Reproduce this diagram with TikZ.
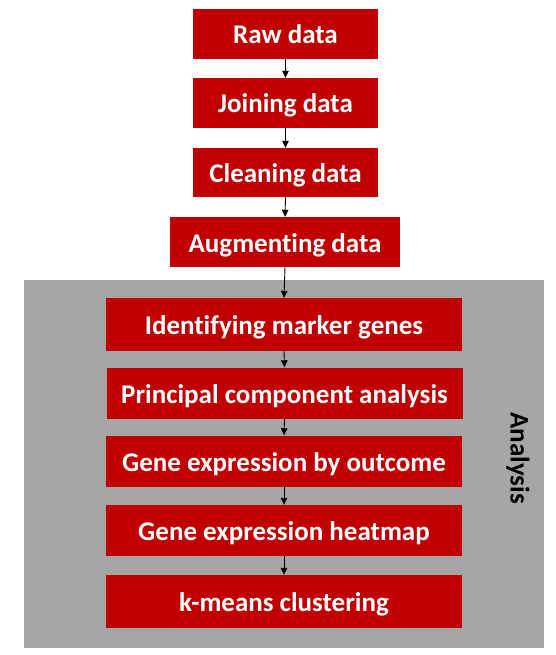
\documentclass[tikz,border=0pt]{standalone}
\usepackage{fontspec}
\setmainfont{Carlito}[Ligatures=NoCommon]
\usetikzlibrary{arrows.meta}
\definecolor{boxred}{HTML}{C00000}
\definecolor{panelgray}{HTML}{A6A6A6}
\begin{document}
\begin{tikzpicture}[x=1pt,y=-1pt,
  stepbox/.style={fill=boxred, draw=none, text=white, inner sep=0pt,
    font=\fontsize{27}{31}\selectfont\bfseries, minimum height=50pt,
    text height=23pt, text depth=3pt},
  flow/.style={draw=black, line width=0.9pt, -{Triangle[width=6.5pt,length=7pt]}}]
\useasboundingbox (0,0) rectangle (556,655);
% analysis panel
\fill[panelgray] (24,280) rectangle (544,648);
\node[rotate=-90, font=\fontsize{27}{31}\selectfont\bfseries] (analysislabel) at (518,458) {Analysis};
% preparation steps
\node[stepbox, minimum width=185pt] (raw) at (285.5,34) {Raw data};
\node[stepbox, minimum width=185pt] (join) at (285.5,103) {Joining data};
\node[stepbox, minimum width=185pt, minimum height=49pt] (clean) at (285.5,172.5) {Cleaning data};
\node[stepbox, minimum width=230pt] (aug) at (285,242) {Augmenting data};
% analysis steps
\node[stepbox, minimum width=356pt, minimum height=53pt] (ident) at (284,324.5) {Identifying marker genes};
\node[stepbox, minimum width=356pt, minimum height=51pt] (pca) at (284.5,393) {Principal component analysis};
\node[stepbox, minimum width=356pt, minimum height=51pt] (outcome) at (284,461) {Gene expression by outcome};
\node[stepbox, minimum width=356pt, minimum height=51pt] (heat) at (284,530.5) {Gene expression heatmap};
\node[stepbox, minimum width=356pt, minimum height=53pt] (kmeans) at (284,601.5) {k-means clustering};
% connectors
\draw[flow] (raw.south) -- (join.north);
\draw[flow] (join.south) -- (clean.north);
\draw[flow] (clean.south) -- (aug.north);
\draw[flow] (aug.south) -- (ident.north);
\draw[flow] (ident.south) -- (pca.north);
\draw[flow] (pca.south) -- (outcome.north);
\draw[flow] (outcome.south) -- (heat.north);
\draw[flow] (heat.south) -- (kmeans.north);
\end{tikzpicture}
\end{document}
